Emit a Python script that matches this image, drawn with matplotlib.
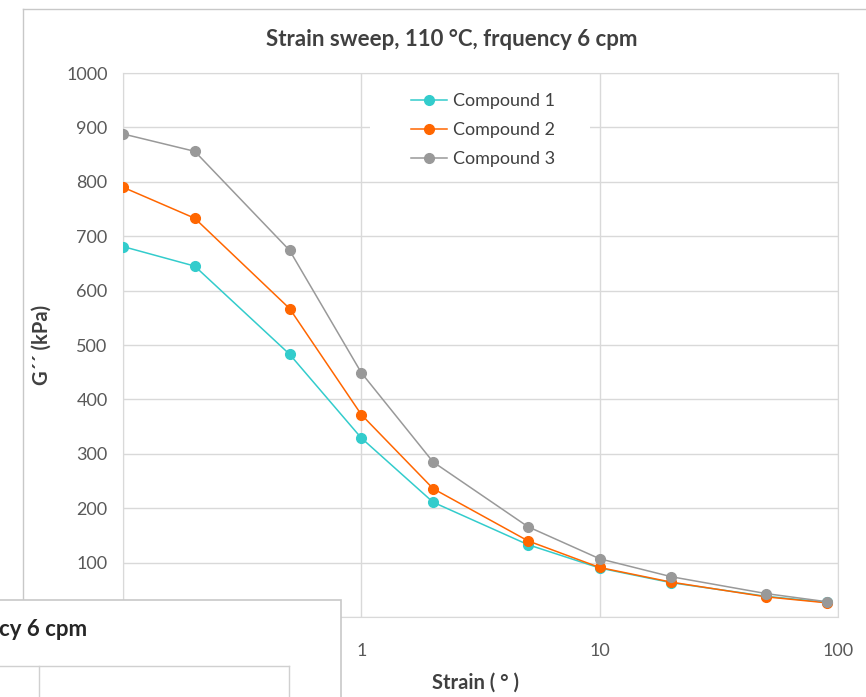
import numpy as np
import matplotlib
matplotlib.use("Agg")
import matplotlib.pyplot as plt
from matplotlib.lines import Line2D
from matplotlib.patches import Rectangle

plt.rcParams['font.family'] = ['Lato', 'DejaVu Sans']

# strain (deg) and G'' (kPa)
strain = [0.1, 0.2, 0.5, 1, 2, 5, 10, 20, 50, 90]
compound1 = [681, 645, 483, 329, 211, 133, 90, 63, 38, 27]
compound2 = [790, 733, 567, 372, 236, 140, 91, 64, 37, 26]
compound3 = [888, 856, 674, 449, 285, 166, 107, 74, 43, 28]
names = ["Compound 1", "Compound 2", "Compound 3"]
colors = ["#33cccc", "#ff6600", "#999999"]

grid_c = "#d9d9d9"
txt_c = "#404040"

fig = plt.figure(figsize=(8.66, 6.97), dpi=100)
ax = fig.add_axes([123/866, 1-617/697, (838-123)/866, (617-73)/697])

for ys, nm, c in zip([compound1, compound2, compound3], names, colors):
    ax.plot(strain, ys, color=c, lw=1.1, marker='o', ms=7, label=nm, zorder=3)

ax.set_xscale('log')
ax.set_xlim(0.1, 100)
ax.set_ylim(0, 1000)
ax.set_xticks([0.1, 1, 10, 100])
ax.set_xticklabels(["0.1", "1", "10", "100"])
ax.xaxis.set_minor_locator(plt.NullLocator())
ax.set_yticks(np.arange(0, 1001, 100))
ax.grid(True, color=grid_c, lw=1)
for s in ax.spines.values():
    s.set_color(grid_c)
ax.tick_params(length=0, labelsize=13, colors="#595959")
ax.tick_params(axis='y', pad=11)
ax.tick_params(axis='x', pad=19)

ax.set_ylabel("G´´ (kPa)", fontsize=14.5, fontweight='bold', color=txt_c)
ax.yaxis.set_label_coords((52-123)/715, 0.5)
ax.set_xlabel("Strain ( ° )", fontsize=14.5, fontweight='bold', color=txt_c)
ax.xaxis.set_label_coords((475-123)/715, (617-673)/544)
fig.text(452/866, 1-39/697, "Strain sweep, 110 °C, frquency 6 cpm", ha='center', va='center',
         fontsize=16, fontweight='bold', color=txt_c)

# white legend area hiding the gridlines behind it
ax.add_patch(Rectangle(((370-123)/715, (617-176)/544), 220/715, 91/544, transform=ax.transAxes,
                       facecolor='white', edgecolor='none', zorder=2))
leg = ax.legend(loc='upper left', bbox_to_anchor=((411-123)/715, (617-93)/544),
                frameon=False, fontsize=13, handlelength=2.0, labelspacing=0.73, borderpad=0,
                borderaxespad=0, handletextpad=0.3)
for t in leg.get_texts():
    t.set_color(txt_c)

# outer chart frame
fig.add_artist(Line2D([22.7/866, 22.7/866], [0, 1-9.3/697], color="#c8c8c8", lw=1))
fig.add_artist(Line2D([22.7/866, 1], [1-9.3/697, 1-9.3/697], color="#c8c8c8", lw=1))

# second chart window overlapping lower left corner
fig.add_artist(Rectangle((-0.01, -0.01), 340.7/866 + 0.01, 1-600/697 + 0.01, transform=fig.transFigure,
                         facecolor='white', edgecolor="#c8c8c8", lw=1.2, zorder=10))
fig.text(87/866, 1-630/697, "cy 6 cpm", ha='right', va='center', fontsize=16,
         fontweight='bold', color="#262626", zorder=11)
fig.add_artist(Line2D([0, 289/866], [1-666/697, 1-666/697], color="#d0d0d0", lw=1, zorder=11))
fig.add_artist(Line2D([39/866, 39/866], [0, 1-666/697], color="#d0d0d0", lw=1, zorder=11))
fig.add_artist(Line2D([289/866, 289/866], [0, 1-666/697], color="#d0d0d0", lw=1, zorder=11))

fig.savefig("out.png", dpi=100)
